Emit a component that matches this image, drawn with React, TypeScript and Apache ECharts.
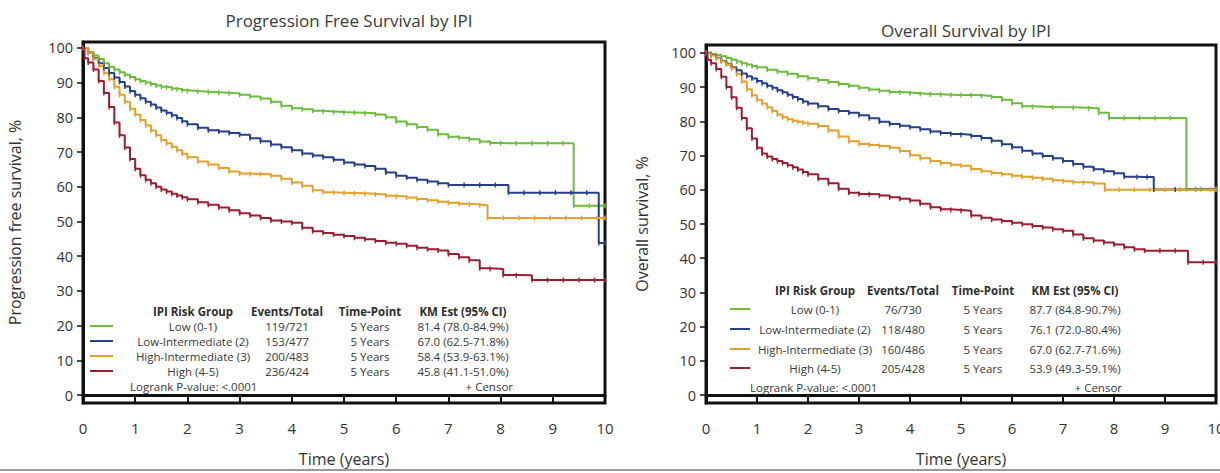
import React, { useEffect, useRef } from "react";
import * as echarts from "echarts";

// ---------- tick labels ----------
const xTicks = [0, 1, 2, 3, 4, 5, 6, 7, 8, 9, 10];
const yTicks = [0, 10, 20, 30, 40, 50, 60, 70, 80, 90, 100];

// ---------- table content ----------
const groups = ["Low (0-1)", "Low-Intermediate (2)", "High-Intermediate (3)", "High (4-5)"];
const colors = ["#6dbd3d", "#263f8b", "#e6a12c", "#9d1c31"];
const timePoint = "5 Years";
const pfsEvents = ["119/721", "153/477", "200/483", "236/424"];
const pfsKm = ["81.4 (78.0-84.9%)", "67.0 (62.5-71.8%)", "58.4 (53.9-63.1%)", "45.8 (41.1-51.0%)"];
const osEvents = ["76/730", "118/480", "160/486", "205/428"];
const osKm = ["87.7 (84.8-90.7%)", "76.1 (72.0-80.4%)", "67.0 (62.7-71.6%)", "53.9 (49.3-59.1%)"];

// ---------- PFS curves [time (years), survival %] ----------
const pfsLow = [
  [0, 100], [0.1, 98.8], [0.2, 97.8], [0.3, 96.8], [0.4, 95.6], [0.5, 94.6], [0.6, 93.8], [0.7, 93],
  [0.8, 92.3], [0.9, 91.6], [1, 91], [1.1, 90.5], [1.2, 90], [1.3, 89.6], [1.4, 89.2], [1.5, 88.8],
  [1.6, 88.6], [1.7, 88.3], [1.8, 88.1], [1.9, 87.8], [2, 87.6], [2.2, 87.4], [2.4, 87.2], [2.6, 87.1],
  [2.8, 86.9], [3, 86.5], [3.2, 86], [3.4, 85.4], [3.6, 84.5], [3.8, 83.3], [4, 82.6], [4.2, 82.3],
  [4.4, 81.9], [4.6, 81.7], [4.8, 81.5], [5, 81.4], [5.2, 81.3], [5.4, 81.2], [5.6, 80.8], [5.8, 80],
  [6, 78.8], [6.2, 78], [6.4, 77.2], [6.6, 76.4], [6.8, 75.1], [7, 74.4], [7.2, 74.1], [7.4, 73.7],
  [7.6, 73], [7.8, 72.6], [8, 72.5], [8.3, 72.5], [8.6, 72.5], [8.9, 72.5], [9.2, 72.5], [9.4, 54.5],
  [9.7, 54.5], [10, 54.5],
];
const pfsLowInt = [
  [0, 100], [0.1, 98.6], [0.2, 97], [0.3, 95.6], [0.4, 94.2], [0.5, 92.8], [0.6, 91.5], [0.7, 90.2],
  [0.8, 88.9], [0.9, 87.6], [1, 86.5], [1.1, 85.5], [1.2, 84.5], [1.3, 83.7], [1.4, 82.8], [1.5, 82],
  [1.6, 81.3], [1.7, 80.6], [1.8, 79.8], [1.9, 78.9], [2, 78], [2.2, 77], [2.4, 76.3], [2.6, 75.9],
  [2.8, 75.5], [3, 75], [3.2, 74], [3.4, 73.1], [3.6, 72.2], [3.8, 71.4], [4, 70.5], [4.2, 69.6],
  [4.4, 69], [4.6, 68.5], [4.8, 67.8], [5, 67], [5.2, 66.4], [5.4, 66], [5.6, 65.2], [5.8, 64.1],
  [6, 63.2], [6.2, 62.6], [6.4, 62], [6.6, 61.5], [6.8, 61], [7, 60.5], [7.3, 60.5], [7.6, 60.5],
  [7.9, 60.5], [8.15, 58.3], [8.45, 58.3], [8.75, 58.3], [9.05, 58.3], [9.35, 58.3], [9.65, 58.3],
  [9.88, 43.8], [10, 43.8],
];
const pfsHighInt = [
  [0, 100], [0.1, 98.6], [0.2, 96.8], [0.3, 94.8], [0.4, 92.8], [0.5, 91], [0.6, 88.8], [0.7, 86.5],
  [0.8, 84.5], [0.9, 82.5], [1, 80.8], [1.1, 79.2], [1.2, 77.7], [1.3, 76.2], [1.4, 74.8], [1.5, 73.5],
  [1.6, 72.5], [1.7, 71.5], [1.8, 70.5], [1.9, 69.5], [2, 68.5], [2.2, 67.3], [2.4, 66.4], [2.6, 65.4],
  [2.8, 64.4], [3, 63.8], [3.2, 63.7], [3.4, 63.6], [3.6, 63.2], [3.8, 62.3], [4, 61.2], [4.2, 60.3],
  [4.4, 59], [4.6, 58.4], [4.8, 58.3], [5, 58.2], [5.2, 58.1], [5.4, 58], [5.6, 57.8], [5.8, 57.4],
  [6, 57.2], [6.2, 56.9], [6.4, 56.5], [6.6, 56.1], [6.8, 55.7], [7, 55.4], [7.2, 55.1], [7.4, 54.9],
  [7.6, 54.7], [7.75, 51], [8.05, 51], [8.35, 51], [8.65, 51], [8.95, 51], [9.25, 51], [9.55, 51],
  [9.85, 51], [10, 51],
];
const pfsHigh = [
  [0, 100], [0.03, 97], [0.1, 95.8], [0.2, 93.8], [0.3, 90.5], [0.4, 87], [0.5, 83], [0.6, 78.5],
  [0.7, 74.8], [0.8, 71.3], [0.9, 68], [1, 65.2], [1.1, 63.3], [1.2, 62], [1.3, 61], [1.4, 60],
  [1.5, 59.2], [1.6, 58.6], [1.7, 58], [1.8, 57.5], [1.9, 57], [2, 56.4], [2.2, 55.5], [2.4, 54.8],
  [2.6, 54], [2.8, 53.2], [3, 52.4], [3.2, 51.7], [3.4, 51], [3.6, 50.3], [3.8, 50], [4, 49.6],
  [4.2, 48.2], [4.4, 47.2], [4.6, 46.7], [4.8, 46.2], [5, 45.8], [5.2, 45.3], [5.4, 44.9], [5.6, 44.4],
  [5.8, 43.9], [6, 43.6], [6.2, 43], [6.4, 42.4], [6.6, 42], [6.8, 41.6], [7, 40.6], [7.2, 39.7],
  [7.4, 38.8], [7.6, 36.5], [7.8, 36.3], [8.05, 34.6], [8.3, 34.5], [8.6, 33.1], [8.9, 33.1],
  [9.2, 33.1], [9.5, 33.1], [9.8, 33.1], [10, 33.1],
];

// ---------- OS curves [time (years), survival %] ----------
const osLow = [
  [0, 100], [0.1, 99.7], [0.2, 99.4], [0.3, 99], [0.4, 98.5], [0.5, 98], [0.6, 97.5], [0.7, 97],
  [0.8, 96.6], [0.9, 96.2], [1, 95.8], [1.2, 95.1], [1.4, 94.5], [1.6, 93.9], [1.8, 93.2], [2, 92.6],
  [2.2, 92.1], [2.4, 91.5], [2.6, 90.9], [2.8, 90.4], [3, 89.8], [3.2, 89.3], [3.4, 88.9], [3.6, 88.6],
  [3.8, 88.4], [4, 88.2], [4.2, 88], [4.4, 87.9], [4.6, 87.8], [4.8, 87.7], [5, 87.7], [5.2, 87.6],
  [5.4, 87.4], [5.6, 87.1], [5.8, 86.3], [6, 85.3], [6.2, 84.4], [6.4, 84.2], [6.8, 84.1], [7.2, 84],
  [7.5, 83.8], [7.7, 82.5], [7.9, 81], [8.2, 81], [8.5, 81], [8.8, 81], [9.1, 81], [9.42, 60.2],
  [9.7, 60.2], [10, 60.2],
];
const osLowInt = [
  [0, 100], [0.1, 99.4], [0.2, 98.6], [0.3, 97.6], [0.4, 96.8], [0.5, 95.8], [0.6, 94.9], [0.7, 94],
  [0.8, 93.2], [0.9, 92.5], [1, 91.8], [1.1, 91.1], [1.2, 90.4], [1.3, 89.8], [1.4, 89.1], [1.5, 88.5],
  [1.6, 87.8], [1.7, 87.1], [1.8, 86.5], [1.9, 85.8], [2, 85.2], [2.2, 84.4], [2.4, 83.6], [2.6, 83],
  [2.8, 82.5], [3, 81.8], [3.2, 80.9], [3.4, 79.9], [3.6, 79.2], [3.8, 78.7], [4, 78.3], [4.2, 77.7],
  [4.4, 77], [4.6, 76.6], [4.8, 76.3], [5, 76.1], [5.2, 75.7], [5.4, 75.1], [5.6, 74.3], [5.8, 73.3],
  [6, 72.4], [6.2, 71.4], [6.4, 70.6], [6.6, 69.9], [6.8, 69.2], [7, 68.4], [7.2, 67.5], [7.4, 66.7],
  [7.6, 66], [7.8, 65.4], [8, 64.8], [8.2, 63.8], [8.45, 63.7], [8.65, 63.7], [8.78, 60.1], [9.2, 60.1],
  [9.6, 60.1], [10, 60.1],
];
const osHighInt = [
  [0, 100], [0.1, 99.2], [0.2, 98.4], [0.3, 97.5], [0.4, 96.6], [0.5, 95.5], [0.6, 93.8], [0.7, 91.6],
  [0.8, 89.4], [0.9, 87.6], [1, 86.3], [1.1, 85.2], [1.2, 84.1], [1.3, 83], [1.4, 82], [1.5, 81.2],
  [1.6, 80.6], [1.7, 80.2], [1.8, 79.9], [1.9, 79.6], [2, 79.3], [2.2, 78.6], [2.4, 77.3], [2.6, 75.6],
  [2.8, 74.2], [3, 73.4], [3.2, 73.1], [3.4, 72.8], [3.6, 72.3], [3.8, 71.3], [4, 70.1], [4.2, 69.2],
  [4.4, 68.4], [4.6, 67.8], [4.8, 67.3], [5, 67], [5.2, 66.1], [5.4, 65.4], [5.6, 64.9], [5.8, 64.5],
  [6, 64.1], [6.2, 63.8], [6.4, 63.5], [6.6, 63.2], [6.8, 62.8], [7, 62.5], [7.2, 62.2], [7.4, 62.1],
  [7.6, 61.8], [7.82, 60], [8.1, 60], [8.4, 60], [8.7, 60], [9, 60], [9.3, 60], [9.6, 60], [9.9, 60], [10, 60],
];
const osHigh = [
  [0, 100], [0.03, 98], [0.1, 97], [0.2, 95.3], [0.3, 93], [0.4, 90], [0.5, 87], [0.6, 84],
  [0.7, 81], [0.8, 78], [0.9, 75], [1, 72.3], [1.1, 70.6], [1.2, 69.7], [1.3, 69], [1.4, 68.4],
  [1.5, 67.8], [1.6, 67.2], [1.7, 66.6], [1.8, 65.9], [1.9, 65.2], [2, 64.5], [2.2, 63.2], [2.4, 61.9],
  [2.6, 60.3], [2.8, 59.1], [3, 58.8], [3.2, 58.7], [3.4, 58.3], [3.6, 57.8], [3.8, 57.4], [4, 56.9],
  [4.2, 55.9], [4.4, 54.9], [4.6, 54.3], [4.8, 54.1], [5, 53.9], [5.2, 52.5], [5.4, 51.8], [5.6, 51.3],
  [5.8, 50.9], [6, 50.4], [6.2, 49.9], [6.4, 49.4], [6.6, 49], [6.8, 48.5], [7, 48], [7.2, 46.9],
  [7.4, 45.8], [7.6, 45.2], [7.8, 44.6], [8, 44], [8.2, 43.2], [8.4, 42.6], [8.6, 42.2], [8.9, 42.2],
  [9.2, 42.2], [9.45, 38.8], [9.75, 38.8], [10, 38.8],
];

const pfsCurves = [pfsLow, pfsLowInt, pfsHighInt, pfsHigh];
const osCurves = [osLow, osLowInt, osHighInt, osHigh];

const FONT = "'Open Sans', 'Liberation Sans', sans-serif";
const NARROW = "'Liberation Sans Narrow', 'Open Sans', sans-serif";
const TXT = "#383838";
const TFS = 11.5;

function makeTable(
  cols: number[], headerY: number, rowYs: number[], footerY: number,
  lineX: [number, number], logX: number, censorX: number, events: string[], km: string[]
) {
  const els: any[] = [];
  const headers = ["IPI Risk Group", "Events/Total", "Time-Point", "KM Est (95% CI)"];
  headers.forEach((h, i) =>
    els.push({
      type: "text", x: cols[i], y: headerY, z: 100,
      style: { text: h, font: `bold ${TFS}px ${FONT}`, fill: "#2e2e2e", align: "center", verticalAlign: "middle" },
    })
  );
  groups.forEach((g, r) => {
    els.push({
      type: "line", z: 100, shape: { x1: lineX[0], y1: rowYs[r], x2: lineX[1], y2: rowYs[r] },
      style: { stroke: colors[r], lineWidth: 2 },
    });
    [g, events[r], timePoint, km[r]].forEach((t, i) =>
      els.push({
        type: "text", x: cols[i], y: rowYs[r], z: 100,
        style: { text: t, font: `${TFS}px ${FONT}`, fill: TXT, align: "center", verticalAlign: "middle" },
      })
    );
  });
  els.push({
    type: "text", x: logX, y: footerY, z: 100,
    style: { text: "Logrank P-value: <.0001", font: `${TFS}px ${FONT}`, fill: TXT, align: "left", verticalAlign: "middle" },
  });
  els.push({
    type: "text", x: censorX, y: footerY, z: 100,
    style: { text: "+ Censor", font: `${TFS}px ${FONT}`, fill: TXT, align: "right", verticalAlign: "middle" },
  });
  return els;
}

function axisPair(gridIndex: number, yName: string, yMin: number, yMax: number, nameGap: number) {
  const x = {
    type: "value", gridIndex, min: xTicks[0], max: xTicks[xTicks.length - 1], interval: 1,
    axisLine: { show: true, lineStyle: { color: "#111", width: 3 } },
    axisTick: { show: true, length: 8, lineStyle: { color: "#111", width: 2 } },
    axisLabel: { margin: 17, fontSize: 15, fontFamily: NARROW, color: "#333" },
    splitLine: { show: false },
    name: "Time (years)", nameLocation: "middle", nameGap: 48,
    nameTextStyle: { fontSize: 16, fontFamily: NARROW, color: "#333" },
  };
  const y = {
    type: "value", gridIndex, min: yMin, max: yMax,
    axisLine: { show: true, lineStyle: { color: "#111", width: 3 } },
    axisTick: { show: true, length: 6, customValues: yTicks, lineStyle: { color: "#111", width: 1.5 } },
    axisLabel: { margin: 10, customValues: yTicks, fontSize: 14.5, fontFamily: FONT, color: "#333" },
    splitLine: { show: false },
    name: yName, nameLocation: "middle", nameGap,
    nameTextStyle: { fontSize: 16, fontFamily: NARROW, color: "#333" },
  };
  return { x, y };
}

export default function App() {
  const ref = useRef<HTMLDivElement>(null);
  useEffect(() => {
    if (!ref.current) return;
    const chart = echarts.init(ref.current, null, { renderer: "svg" });
    const a0 = axisPair(0, "Progression free survival, %", -2.3, 101.7, 60);
    const a1 = axisPair(1, "Overall survival, %", -2.3, 102.3, 56);
    const mkSeries = (curves: number[][][], gi: number) =>
      curves.map((d, i) => ({
        type: "line", name: groups[i], xAxisIndex: gi, yAxisIndex: gi, data: d,
        step: "end", symbol: "rect", symbolSize: [1.4, 5], showSymbol: true,
        lineStyle: { color: colors[i], width: 2 }, itemStyle: { color: colors[i] },
        silent: true, clip: true,
      }));
    chart.setOption({
      animation: false,
      backgroundColor: "#ffffff",
      title: [
        {
          text: "Progression Free Survival by IPI", left: 344, top: 7, textAlign: "center",
          textStyle: { fontFamily: FONT, fontSize: 17, fontWeight: "normal", color: "#3a3a3a" },
        },
        {
          text: "Overall Survival by IPI", left: 961, top: 17, textAlign: "center",
          textStyle: { fontFamily: FONT, fontSize: 17, fontWeight: "normal", color: "#3a3a3a" },
        },
      ],
      grid: [
        { left: 83, right: 615, top: 42, bottom: 70, show: true, borderColor: "#111", borderWidth: 3, backgroundColor: "transparent", outerBoundsMode: "none", containLabel: false },
        { left: 706, right: 4, top: 45, bottom: 70, show: true, borderColor: "#111", borderWidth: 3, backgroundColor: "transparent", outerBoundsMode: "none", containLabel: false },
      ],
      xAxis: [a0.x, a1.x],
      yAxis: [a0.y, a1.y],
      series: [...mkSeries(pfsCurves, 0), ...mkSeries(osCurves, 1)],
      graphic: [
        ...makeTable([193, 287, 370, 463], 311, [326, 341, 356, 371], 386, [90, 113], 130, 513, pfsEvents, pfsKm),
        ...makeTable([815, 903, 983, 1075], 290, [309, 329, 349, 368], 387, [730, 750], 750, 1122, osEvents, osKm),
        { type: "line", shape: { x1: 0, y1: 470, x2: 1220, y2: 470 }, style: { stroke: "#9a9a9a", lineWidth: 2 } },
      ],
    });
    return () => chart.dispose();
  }, []);
  return (
    <div
      ref={ref}
      style={{ position: "fixed", left: 0, top: 0, width: 1220, height: 473, background: "#fff" }}
    />
  );
}
